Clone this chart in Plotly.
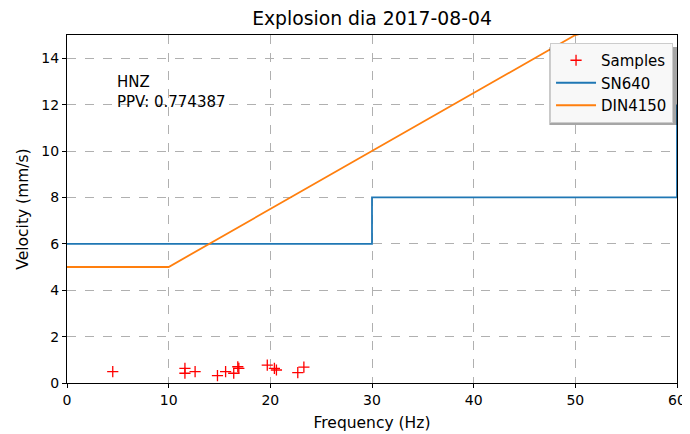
import plotly.graph_objects as go

sample_freq = [4.5, 11.6, 11.6, 12.6, 14.8, 15.6, 16.4, 16.8, 16.9, 19.7, 20.4, 20.6, 22.7, 23.3]
sample_vel = [0.49, 0.63, 0.42, 0.49, 0.32, 0.49, 0.42, 0.70, 0.63, 0.774387, 0.63, 0.56, 0.45, 0.68]

sn640_freq = [0, 30, 30, 60, 60]
sn640_vel = [6, 6, 8, 8, 12]

din_freq = [0, 10, 50, 100]
din_vel = [5, 5, 15, 20]

x_ticks = [0, 10, 20, 30, 40, 50, 60]
y_ticks = [0, 2, 4, 6, 8, 10, 12, 14]

font = "DejaVu Sans"

fig = go.Figure()
fig.add_trace(go.Scatter(x=sample_freq, y=sample_vel, mode="markers", name="Samples", legendgroup="a",
                         marker=dict(symbol="cross-thin", size=8, line=dict(color="red", width=1.3), color="red")))
fig.add_trace(go.Scatter(x=sn640_freq, y=sn640_vel, mode="lines", name="SN640", legendgroup="b",
                         line=dict(color="#1f77b4", width=1.8)))
fig.add_trace(go.Scatter(x=din_freq, y=din_vel, mode="lines", name="DIN4150", legendgroup="c",
                         line=dict(color="#ff7f0e", width=1.8)))

fig.add_annotation(x=4.7, y=11.65, xref="x", yref="y", text="HNZ<br>PPV: 0.774387",
                   showarrow=False, xanchor="left", yanchor="bottom", align="left",
                   font=dict(family=font, size=15, color="black"))

# legend shadow
fig.add_shape(type="rect", xref="paper", yref="paper", x0=0.7908, x1=1.0, y0=0.7414, y1=0.9655,
              fillcolor="rgba(0,0,0,0.35)", line=dict(width=0), layer="above")

axis_common = dict(showline=True, linecolor="black", linewidth=1, mirror=True,
                   ticks="outside", ticklen=4, tickcolor="black",
                   showgrid=True, gridcolor="#b0b0b0", griddash="dash", gridwidth=1,
                   zeroline=False, tickfont=dict(family=font, size=14, color="black"))

fig.update_layout(
    width=690, height=434,
    margin=dict(l=59, r=19, t=27, b=59),
    paper_bgcolor="white", plot_bgcolor="white",
    title=dict(text="Explosion dia 2017-08-04", x=0.5, xref="paper", xanchor="center", y=0.977, yanchor="middle",
               font=dict(family=font, size=18.8, color="black")),
    xaxis=dict(range=[0, 60], tickvals=x_ticks,
               title=dict(text="Frequency (Hz)", font=dict(family=font, size=15.5, color="black"), standoff=10),
               **axis_common),
    yaxis=dict(range=[0, 15], tickvals=y_ticks,
               title=dict(text="Velocity (mm/s)", font=dict(family=font, size=15.5, color="black"), standoff=8),
               **axis_common),
    legend=dict(x=0.9935, y=0.977, xanchor="right", yanchor="top", traceorder="grouped",
                bgcolor="rgba(248,248,248,1)", bordercolor="#cccccc", borderwidth=1, itemwidth=40,
                font=dict(family=font, size=15, color="black"), tracegroupgap=0),
    showlegend=True,
)

fig.write_html("out.html")
